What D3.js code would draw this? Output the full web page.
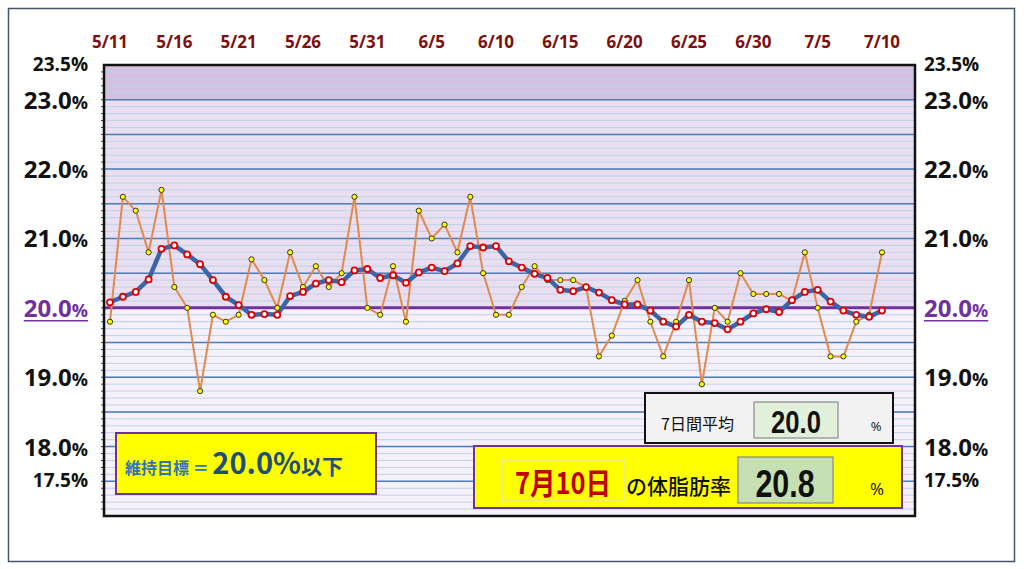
<!DOCTYPE html>
<html><head><meta charset="utf-8">
<script src="https://cdn.jsdelivr.net/npm/d3@7"></script>
<style>body{margin:0;background:#fff}svg{display:block}</style>
</head><body><svg id="c" width="1024" height="569"></svg>
<script>
const dateLabels=["5/11","5/16","5/21","5/26","5/31","6/5","6/10","6/15","6/20","6/25","6/30","7/5","7/10"];
const daily=[19.8,21.6,21.4,20.8,21.7,20.3,20.0,18.8,19.9,19.8,19.9,20.7,20.4,20.0,20.8,20.3,20.6,20.3,20.5,21.6,20.0,
19.9,20.6,19.8,21.4,21.0,21.2,20.8,21.6,20.5,19.9,19.9,20.3,20.6,20.4,20.4,20.4,20.3,19.3,19.6,20.1,20.4,
19.8,19.3,19.8,20.4,18.9,20.0,19.8,20.5,20.2,20.2,20.2,20.1,20.8,20.0,19.3,19.3,19.8,19.9,20.8];
const avg7=[20.08,20.16,20.23,20.41,20.85,20.9,20.77,20.63,20.4,20.16,20.04,19.9,19.91,19.9,20.17,20.23,20.35,20.4,20.37,20.54,20.56,
20.43,20.47,20.36,20.51,20.58,20.53,20.64,20.89,20.87,20.89,20.67,20.58,20.49,20.43,20.26,20.24,20.3,20.22,20.11,20.05,20.05,
19.96,19.8,19.73,19.9,19.8,19.78,19.69,19.8,19.92,19.98,19.94,20.11,20.23,20.26,20.09,19.96,19.9,19.87,19.96];
const leftTicks=[23.5,23.0,22.0,21.0,20.0,19.0,18.0,17.5];
const target=20.0;
const svg=d3.select("#c");
const L=104,R=915,T=65,B=516;
const x=d3.scaleLinear().domain([0,60]).range([110,882]);
const y=d3.scaleLinear().domain([17,23.5]).range([B,T]);
svg.append("rect").attr("x",8.5).attr("y",8.5).attr("width",1006).attr("height",553).attr("fill","#fff").attr("stroke","#44546a").attr("stroke-width",1.5);
svg.append("rect").attr("x",L).attr("y",y(23.5)).attr("width",R-L).attr("height",y(23)-y(23.5)).attr("fill","#d5c0e0");
svg.append("rect").attr("x",L).attr("y",y(23)).attr("width",R-L).attr("height",y(20)-y(23)).attr("fill","#eadff0");
svg.append("rect").attr("x",L).attr("y",y(20)).attr("width",R-L).attr("height",y(17)-y(20)).attr("fill","#f5f0f9");
const minor=d3.range(171,235).map(v=>v/10);
svg.append("g").selectAll("line").data(minor).join("line").attr("x1",L).attr("x2",R)
 .attr("y1",d=>y(d)).attr("y2",d=>y(d)).attr("stroke","#bcd3ea").attr("stroke-width",1);
const major=d3.range(35,47).map(v=>v/2);
svg.append("g").selectAll("line").data(major).join("line").attr("x1",L).attr("x2",R)
 .attr("y1",d=>y(d)).attr("y2",d=>y(d)).attr("stroke","#4a7ebb").attr("stroke-width",1.5);
svg.append("line").attr("x1",L).attr("x2",R).attr("y1",y(target)).attr("y2",y(target)).attr("stroke","#7030a0").attr("stroke-width",3);
svg.append("g").selectAll("line").data(minor).join("line").attr("x1",L-3).attr("x2",L).attr("y1",d=>y(d)).attr("y2",d=>y(d)).attr("stroke","#444");
svg.append("rect").attr("x",L).attr("y",T).attr("width",R-L).attr("height",B-T).attr("fill","none").attr("stroke","#111").attr("stroke-width",2.5);
const ld=d3.line().x((d,i)=>x(i)).y(d=>y(d));
svg.append("path").datum(daily).attr("d",ld).attr("fill","none").attr("stroke","#e08a50").attr("stroke-width",2);
svg.append("path").datum(avg7).attr("d",ld).attr("fill","none").attr("stroke","#3a66a8").attr("stroke-width",4.5);
svg.append("g").selectAll("circle").data(daily).join("circle").attr("cx",(d,i)=>x(i)).attr("cy",d=>y(d)).attr("r",2.6).attr("fill","#ffff00").attr("stroke","#333").attr("stroke-width",1);
svg.append("g").selectAll("circle").data(avg7).join("circle").attr("cx",(d,i)=>x(i)).attr("cy",d=>y(d)).attr("r",3).attr("fill","#fff").attr("stroke","#e00000").attr("stroke-width",1.8);
svg.append("g").selectAll("text").data(dateLabels).join("text").attr("x",(d,i)=>x(i*5)).attr("y",48).attr("text-anchor","middle")
 .attr("font-family","Open Sans, sans-serif").attr("font-weight","bold").attr("font-size",17).attr("fill","#7b1010").text(d=>d);
function yl(xpos,anchor){
 const g=svg.append("g");
 leftTicks.forEach(v=>{
  const small=(v===23.5||v===17.5);
  const col=v===20?"#7030a0":"#111";
  const t=g.append("text").attr("x",xpos).attr("y",y(v)+(small?6:9)).attr("text-anchor",anchor)
   .attr("font-family","Open Sans, sans-serif").attr("font-weight","bold").attr("fill",col).attr("font-size",small?19:24);
  t.append("tspan").text(v.toFixed(1));
  t.append("tspan").attr("font-size",small?19:18).text("%");
  if(v===20){const bb=t.node().getBBox();g.append("line").attr("x1",bb.x).attr("x2",bb.x+bb.width).attr("y1",y(v)+13).attr("y2",y(v)+13).attr("stroke",col).attr("stroke-width",1.5);}
 });
}
yl(88,"end");yl(924,"start");
svg.append("rect").attr("x",116).attr("y",433).attr("width",260).attr("height",61).attr("fill","#ffff00").attr("stroke","#7030a0").attr("stroke-width",2);
const tt=svg.append("text").attr("x",125).attr("y",474).attr("font-family","Noto Sans CJK JP").attr("font-weight","bold").attr("fill","#2e75b6");
tt.append("tspan").attr("font-size",16).text("維持目標 ＝ ");
tt.append("tspan").attr("font-size",29).attr("fill","#1f4e79").text("20.0%");
tt.append("tspan").attr("font-size",21).attr("fill","#1f4e79").text("以下");
svg.append("rect").attr("x",645).attr("y",393).attr("width",248).attr("height",50).attr("fill","#f2f2f2").attr("stroke","#111").attr("stroke-width",2);
svg.append("text").attr("x",661).attr("y",430).attr("font-family","Noto Sans CJK JP").attr("font-size",16).attr("fill","#111").text("7日間平均");
svg.append("rect").attr("x",754).attr("y",402).attr("width",84).attr("height",36).attr("fill","#e2efda").attr("stroke","#777");
svg.append("text").attr("transform","translate(796,433) scale(0.8,1)").attr("text-anchor","middle").attr("font-family","Liberation Sans, Arial").attr("font-weight","bold").attr("font-size",32).attr("fill","#111").text(avg7[avg7.length-1].toFixed(1));
svg.append("text").attr("x",876).attr("y",431).attr("text-anchor","middle").attr("font-family","Open Sans").attr("font-size",13).attr("fill","#111").text("%");
svg.append("rect").attr("x",474).attr("y",446).attr("width",428).attr("height",62).attr("fill","#ffff00").attr("stroke","#7030a0").attr("stroke-width",2);
svg.append("rect").attr("x",502).attr("y",460).attr("width",123).attr("height",40).attr("fill","none").attr("stroke","#ddd");
svg.append("text").attr("transform","translate(563,494) scale(0.85,1)").attr("text-anchor","middle").attr("font-family","Noto Sans CJK JP").attr("font-weight","bold").attr("font-size",30).attr("fill","#c00000").text("7月10日");
svg.append("text").attr("x",626).attr("y",494).attr("font-family","Noto Sans CJK JP").attr("font-weight","500").attr("font-size",21).attr("fill","#111").text("の体脂肪率");
svg.append("rect").attr("x",738).attr("y",457).attr("width",95).attr("height",46).attr("fill","#c6e0b4").attr("stroke","#777");
svg.append("text").attr("transform","translate(785,497) scale(0.8,1)").attr("text-anchor","middle").attr("font-family","Liberation Sans, Arial").attr("font-weight","bold").attr("font-size",38).attr("fill","#111").text(daily[daily.length-1].toFixed(1));
svg.append("text").attr("x",877).attr("y",495).attr("text-anchor","middle").attr("font-family","Open Sans").attr("font-size",17).attr("fill","#111").text("%");
</script></body></html>
